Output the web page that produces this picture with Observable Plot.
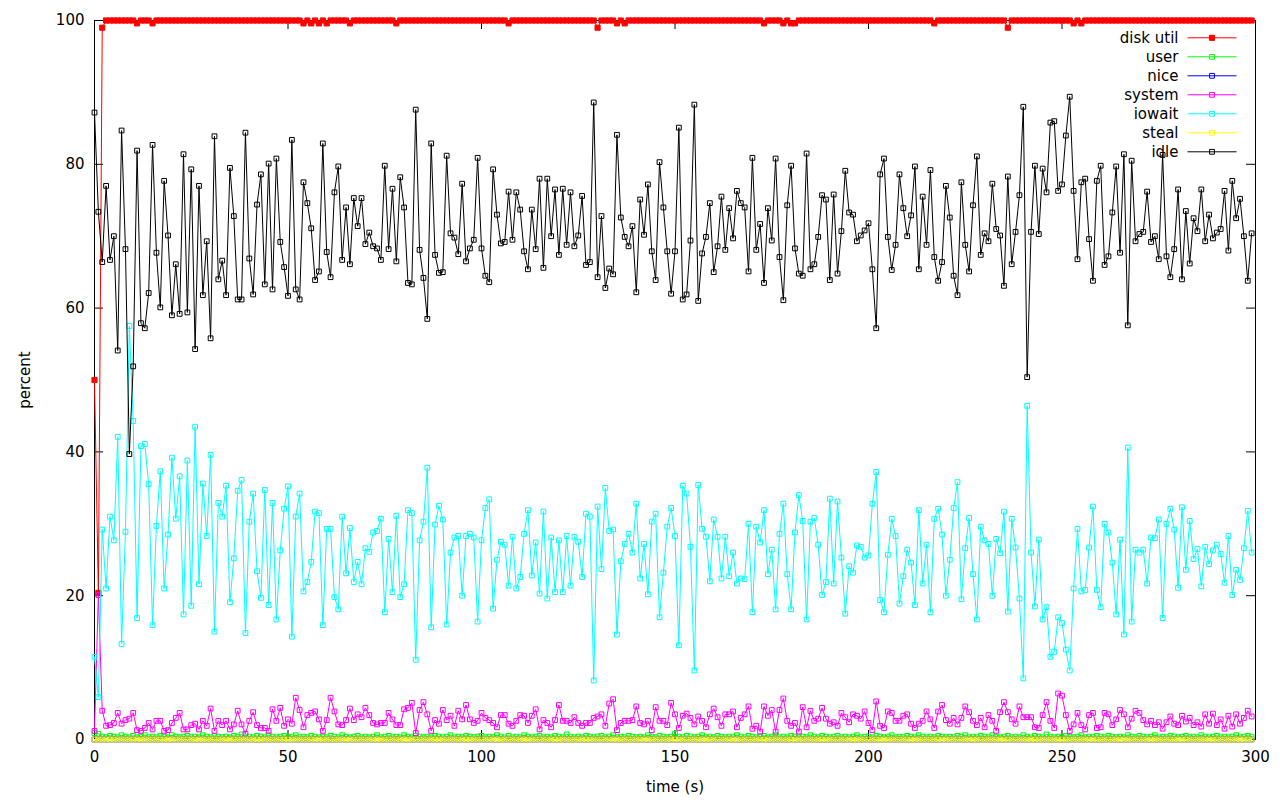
<!DOCTYPE html>
<html><head><meta charset="utf-8">
<script src="https://cdn.jsdelivr.net/npm/d3@7"></script>
<script src="https://cdn.jsdelivr.net/npm/@observablehq/plot@0.6"></script>
<style>html,body{margin:0;padding:0;background:#fff;}</style>
</head><body><div id="chart"></div>
<script>
// sample times (s)
const times = d3.range(0, 300);

const diskUtil = [
50,20.4,99.0,100,100,100,100,100,100,100,
100,99.6,100,100,100,99.6,100,100,100,100,
100,100,100,100,100,100,100,100,100,100,
100,100,100,100,100,100,100,100,100,100,
100,100,100,100,100,100,100,100,100,100,
100,100,100,100,99.6,100,99.6,100,99.6,100,
99.6,100,100,100,100,100,99.6,100,100,100,
100,100,100,100,100,100,100,100,99.6,100,
100,100,100,100,100,100,100,100,100,100,
100,100,100,100,100,100,100,100,100,100,
100,100,100,100,100,100,100,99.6,100,100,
100,100,100,100,100,100,100,100,100,100,
100,100,100,100,100,100,100,100,100,100,
99.0,100,100,100,100,99.6,100,99.6,100,100,
100,100,100,100,100,100,100,100,100,100,
100,100,100,100,100,100,100,100,100,100,
100,100,100,100,100,100,100,100,100,100,
100,100,100,99.6,100,100,100,100,99.6,100,
99.6,99.6,100,100,100,100,100,100,100,100,
100,100,100,100,100,100,100,100,100,100,
100,100,100,100,100,100,100,100,100,100,
100,100,100,100,100,100,100,99.6,100,100,
100,100,100,100,100,100,100,100,100,100,
100,100,100,100,100,100,99.0,100,100,100,
100,100,100,100,100,100,100,100,100,100,
100,100,100,99.6,100,99.6,100,100,100,100,
100,100,100,100,100,100,100,100,100,100,
100,100,100,100,100,100,100,100,100,100,
100,100,100,100,100,100,100,100,100,100,
100,100,100,100,100,100,100,100,100,100];

const user = [
0.9,0.8,0.4,0.3,0.5,0.4,0.3,0.6,0.4,0.3,
0.5,0.3,0.4,0.6,0.3,0.4,0.3,0.5,0.4,0.3,
0.6,0.4,0.3,0.4,0.5,0.3,0.4,0.3,0.6,0.4,
0.3,0.5,0.4,0.3,0.4,0.3,0.5,0.4,0.7,0.3,
0.4,0.3,0.5,0.4,0.3,0.6,0.4,0.3,0.4,0.5,
0.3,0.4,0.6,0.3,0.4,0.3,0.5,0.4,0.3,0.4,
0.3,0.5,0.4,0.3,0.6,0.4,0.3,0.4,0.5,0.3,
0.4,0.3,0.4,0.6,0.3,0.4,0.5,0.3,0.4,0.3,
0.6,0.4,0.3,0.5,0.4,0.3,0.4,0.3,0.5,0.4,
0.3,0.4,0.6,0.3,0.4,0.3,0.5,0.4,0.3,0.4,
0.5,0.3,0.4,0.3,0.6,0.4,0.3,0.5,0.3,0.4,
0.3,0.6,0.4,0.3,0.4,0.5,0.3,0.4,0.3,0.5,
0.4,0.3,0.7,0.4,0.3,0.4,0.3,0.5,0.4,0.3,
0.4,0.5,0.3,0.4,0.6,0.3,0.4,0.3,0.5,0.4,
0.3,0.4,0.3,0.6,0.4,0.3,0.5,0.4,0.3,0.4,
0.8,0.4,0.3,0.5,0.4,0.3,0.4,0.6,0.3,0.4,
0.3,0.5,0.4,0.3,0.4,0.3,0.6,0.4,0.3,0.5,
0.4,0.3,0.4,0.5,0.3,0.4,0.6,0.3,0.4,0.3,
0.5,0.4,0.3,0.4,0.3,0.6,0.4,0.3,0.5,0.4,
0.3,0.4,0.5,0.3,0.4,0.3,0.4,0.6,0.3,0.4,
0.4,0.3,0.5,0.4,0.3,0.4,0.6,0.3,0.4,0.3,
0.5,0.4,0.3,0.6,0.4,0.3,0.4,0.3,0.5,0.4,
0.3,0.4,0.3,0.5,0.4,0.6,0.3,0.4,0.3,0.5,
0.4,0.3,0.6,0.4,0.3,0.4,0.5,0.3,0.4,0.3,
0.6,0.4,0.3,0.5,0.4,0.3,0.7,0.4,0.3,0.4,
0.3,0.5,0.4,0.3,0.4,0.6,0.3,0.4,0.3,0.5,
0.4,0.3,0.5,0.4,0.3,0.4,0.3,0.6,0.4,0.3,
0.5,0.4,0.3,0.4,0.6,0.3,0.4,0.3,0.5,0.4,
0.3,0.4,0.5,0.3,0.4,0.3,0.6,0.4,0.3,0.4,
0.5,0.3,0.4,0.3,0.4,0.6,0.3,0.4,0.5,0.4];

const nice = [
0,0,0,0,0,0,0,0,0,0, 0,0,0,0,0,0,0,0,0,0, 0,0,0,0,0,0,0,0,0,0,
0,0,0,0,0,0,0,0,0,0, 0,0,0,0,0,0,0,0,0,0, 0,0,0,0,0,0,0,0,0,0,
0,0,0,0,0,0,0,0,0,0, 0,0,0,0,0,0,0,0,0,0, 0,0,0,0,0,0,0,0,0,0,
0,0,0,0,0,0,0,0,0,0, 0,0,0,0,0,0,0,0,0,0, 0,0,0,0,0,0,0,0,0,0,
0,0,0,0,0,0,0,0,0,0, 0,0,0,0,0,0,0,0,0,0, 0,0,0,0,0,0,0,0,0,0,
0,0,0,0,0,0,0,0,0,0, 0,0,0,0,0,0,0,0,0,0, 0,0,0,0,0,0,0,0,0,0,
0,0,0,0,0,0,0,0,0,0, 0,0,0,0,0,0,0,0,0,0, 0,0,0,0,0,0,0,0,0,0,
0,0,0,0,0,0,0,0,0,0, 0,0,0,0,0,0,0,0,0,0, 0,0,0,0,0,0,0,0,0,0,
0,0,0,0,0,0,0,0,0,0, 0,0,0,0,0,0,0,0,0,0, 0,0,0,0,0,0,0,0,0,0,
0,0,0,0,0,0,0,0,0,0, 0,0,0,0,0,0,0,0,0,0, 0,0,0,0,0,0,0,0,0,0];

const system = [
1.2,20.1,4.0,1.9,2.0,2.3,3.7,2.2,2.7,2.9,
3.7,1.3,1.2,1.6,2.3,1.4,2.6,2.6,1.2,1.3,
2.3,3.0,3.7,1.4,1.4,2.0,2.2,1.4,2.6,1.9,
4.3,1.2,2.6,2.0,2.6,1.4,2.1,4.0,2.1,0.8,
2.6,3.8,2.0,1.6,1.6,1.2,4.2,2.6,4.4,1.9,
2.8,2.2,5.8,4.1,1.7,3.4,3.7,3.9,2.8,1.2,
2.7,5.8,3.9,2.1,2.0,2.7,4.3,2.7,3.5,3.1,
4.4,3.4,2.3,2.1,2.3,2.3,3.7,2.8,2.0,2.0,
4.2,4.4,5.1,0.9,4.1,5.2,3.5,1.2,2.7,2.2,
4.1,2.7,3.3,1.9,4.0,2.8,4.8,2.8,2.3,2.6,
3.7,3.0,2.7,2.3,1.7,3.4,3.4,2.2,1.9,2.6,
3.4,3.3,2.3,3.3,4.2,1.4,2.7,2.3,1.7,2.7,
4.8,2.6,2.6,2.3,3.1,2.3,1.9,2.3,2.3,3.0,
3.2,3.5,1.9,5.0,5.6,1.3,2.3,2.6,2.6,2.7,
4.6,2.3,2.1,2.6,1.3,4.5,2.6,2.6,2.0,5.1,
3.5,1.6,3.3,3.6,3.0,2.1,3.2,2.6,1.7,3.5,
4.3,3.1,1.9,3.5,3.5,3.9,1.7,3.0,3.5,4.6,
1.5,1.9,1.1,4.6,3.3,4.1,1.1,4.1,5.7,2.6,
1.9,2.3,1.1,4.5,1.7,4.0,2.6,2.9,4.4,2.9,
2.2,2.4,1.9,3.7,3.1,2.4,3.5,3.3,2.9,3.9,
2.3,1.3,5.3,1.9,1.6,3.9,3.7,2.6,2.6,3.3,
3.5,2.2,1.6,2.2,2.6,3.9,2.8,1.6,3.9,4.8,
2.7,2.2,3.0,2.1,3.0,4.6,3.8,2.6,2.0,3.0,
1.7,3.4,2.6,1.2,3.8,5.2,3.8,2.8,2.2,4.6,
3.1,3.1,3.1,1.7,1.6,3.4,5.2,2.6,1.6,6.4,
6.1,3.4,1.2,2.1,3.7,2.0,1.4,3.4,3.7,1.6,
1.7,3.7,3.5,2.0,2.8,4.1,3.5,1.7,2.9,4.0,
3.7,2.7,2.1,2.6,2.0,2.4,1.5,2.4,3.2,2.2,
2.0,3.3,2.5,3.0,2.0,2.4,1.8,3.5,2.2,3.6,
2.0,2.8,1.5,3.3,1.8,3.5,2.2,3.0,4.0,3.2];

const iowait = [
11.5,5.9,29.2,21.0,31.0,27.7,42.1,13.3,28.9,57.5,
44.3,16.9,40.8,41.1,35.5,15.9,29.7,37.3,21.0,28.5,
39.2,30.7,36.6,17.4,38.8,18.6,43.5,21.6,35.6,28.3,
39.6,15.0,32.9,31.0,35.3,19.1,25.2,34.6,36.1,14.8,
30.3,34.2,23.4,19.7,34.7,18.7,32.9,16.7,26.3,32.1,
35.2,14.3,31.0,34.2,20.6,21.9,24.7,31.7,31.5,15.9,
29.3,29.3,19.8,18.1,31.0,23.1,29.4,21.9,24.7,21.6,
26.6,26.1,28.8,29.0,30.7,17.7,27.9,20.5,31.1,19.8,
21.6,31.9,31.5,11.1,27.7,30.3,37.8,15.6,29.9,32.5,
30.6,16.0,26.0,28.1,28.3,20.0,28.3,28.6,28.1,16.4,
27.7,32.2,33.4,18.2,25.0,27.5,27.1,21.4,28.2,21.0,
22.6,28.6,31.9,22.8,27.4,20.3,31.7,19.6,28.1,20.5,
27.7,20.5,28.3,21.4,28.2,27.5,22.6,31.4,31.0,8.2,
32.4,23.7,35.0,29.0,29.2,14.6,24.8,27.2,28.6,26.0,
32.8,22.4,27.2,20.2,30.3,31.4,17.0,23.2,29.6,32.2,
28.3,13.1,35.3,34.2,26.8,9.6,35.4,29.3,28.2,22.0,
30.6,28.2,22.4,28.2,22.7,26.0,21.7,22.4,22.3,30.0,
17.7,29.6,27.4,31.9,23.0,26.4,18.1,28.6,32.8,23.0,
18.1,28.8,34.0,30.4,16.7,30.3,30.8,27.1,20.1,21.9,
33.5,21.7,33.1,25.3,17.5,24.1,23.2,27.0,26.8,25.3,
25.6,32.8,37.2,19.4,17.7,25.7,30.7,28.3,18.9,22.7,
26.4,24.6,18.7,31.9,21.7,27.1,17.7,30.7,32.1,28.5,
20.0,25.0,32.2,35.8,19.5,26.6,30.8,23.0,16.7,29.6,
27.7,27.2,20.0,27.9,25.9,31.7,17.8,30.7,26.7,19.6,
8.5,46.4,26.0,18.5,27.8,16.7,18.4,11.5,12.2,17.0,
16.2,12.5,9.6,21.0,29.3,20.6,20.8,26.7,32.4,20.8,
18.4,30.0,28.8,24.6,17.4,27.8,14.6,40.6,16.4,26.4,
26.0,26.4,21.7,28.1,28.0,30.6,16.9,30.0,32.1,29.2,
21.1,32.3,23.6,30.4,25.1,26.5,21.3,26.8,24.4,26.3,
27.1,25.8,21.8,28.3,20.1,23.6,22.2,26.6,31.8,26.0];

const steal = [
0,0,0,0,0,0,0,0,0,0, 0,0,0,0,0,0,0,0,0,0, 0,0,0,0,0,0,0,0,0,0,
0,0,0,0,0,0,0,0,0,0, 0,0,0,0,0,0,0,0,0,0, 0,0,0,0,0,0,0,0,0,0,
0,0,0,0,0,0,0,0,0,0, 0,0,0,0,0,0,0,0,0,0, 0,0,0,0,0,0,0,0,0,0,
0,0,0,0,0,0,0,0,0,0, 0,0,0,0,0,0,0,0,0,0, 0,0,0,0,0,0,0,0,0,0,
0,0,0,0,0,0,0,0,0,0, 0,0,0,0,0,0,0,0,0,0, 0,0,0,0,0,0,0,0,0,0,
0,0,0,0,0,0,0,0,0,0, 0,0,0,0,0,0,0,0,0,0, 0,0,0,0,0,0,0,0,0,0,
0,0,0,0,0,0,0,0,0,0, 0,0,0,0,0,0,0,0,0,0, 0,0,0,0,0,0,0,0,0,0,
0,0,0,0,0,0,0,0,0,0, 0,0,0,0,0,0,0,0,0,0, 0,0,0,0,0,0,0,0,0,0,
0,0,0,0,0,0,0,0,0,0, 0,0,0,0,0,0,0,0,0,0, 0,0,0,0,0,0,0,0,0,0,
0,0,0,0,0,0,0,0,0,0, 0,0,0,0,0,0,0,0,0,0, 0,0,0,0,0,0,0,0,0,0];

const idle = [
87.2,73.4,66.4,77.0,66.7,70.0,54.1,84.7,68.2,39.7,
51.9,81.9,57.9,57.2,62.1,82.7,67.7,60.1,77.7,70.1,
59.0,66.1,59.2,81.4,59.4,79.3,54.3,77.0,61.8,69.3,
55.8,83.9,64.0,66.6,61.8,79.5,72.8,61.2,61.2,84.4,
66.9,61.9,74.4,78.6,63.3,80.1,62.6,80.8,69.2,65.7,
61.7,83.4,62.6,61.2,77.5,74.6,71.1,63.9,65.1,82.9,
67.8,64.3,76.1,79.7,66.7,74.0,66.1,75.3,71.4,75.3,
68.9,70.5,68.6,68.3,66.7,79.8,68.2,76.6,66.5,78.2,
74.0,63.5,63.3,87.6,68.1,64.2,58.5,82.9,67.4,64.9,
65.0,81.2,70.4,69.8,67.5,77.3,66.5,68.3,69.5,80.9,
68.3,64.5,63.6,79.3,73.0,69.0,69.2,76.2,69.5,76.1,
73.7,67.9,65.4,73.7,68.2,78.0,65.6,78.0,70.0,76.5,
67.4,76.6,68.8,76.1,68.6,70.1,75.6,66.0,66.4,88.6,
64.3,72.8,62.8,65.5,64.7,84.1,72.6,69.9,68.6,71.4,
62.2,75.1,70.2,77.2,67.9,63.9,80.3,74.0,67.9,62.0,
67.9,85.1,61.2,61.9,69.4,88.3,61.0,67.6,69.9,74.6,
65.0,68.6,75.5,68.1,73.9,69.7,76.3,74.6,74.0,65.1,
80.9,68.1,71.7,63.5,73.9,69.4,80.8,67.1,61.1,74.3,
79.8,68.3,64.8,64.5,81.5,65.4,66.1,69.9,75.7,75.1,
63.9,75.8,64.8,70.7,79.1,73.3,73.0,69.3,70.1,70.8,
71.8,65.4,57.2,78.6,80.8,69.9,65.3,68.8,78.6,73.9,
70.0,72.9,79.7,65.4,75.5,68.8,79.2,67.1,63.8,66.4,
77.0,72.6,64.5,61.8,77.5,68.8,65.1,74.3,81.1,67.4,
70.4,69.3,77.3,71.0,70.1,63.1,78.3,66.1,70.6,75.7,
88.0,50.4,70.6,79.8,70.3,79.4,76.1,85.8,86.0,76.3,
77.2,84.0,89.4,76.3,66.8,77.5,78.0,69.6,63.8,77.7,
79.8,66.0,67.2,73.3,79.7,67.7,81.4,57.6,80.5,69.3,
70.3,70.6,76.2,69.2,70.0,66.8,81.3,67.2,64.3,68.2,
76.5,64.0,73.5,66.2,72.5,70.7,76.5,69.3,73.0,69.7,
70.5,71.0,76.3,68.0,77.7,72.5,75.2,70.0,63.8,70.4];

const seriesNames = ["disk util", "user", "nice", "system", "iowait", "steal", "idle"];
const seriesColors = ["#ff0000", "#00ff00", "#0000ff", "#ff00ff", "#00ffff", "#ffff00", "#000000"];
const seriesValues = [diskUtil, user, nice, system, iowait, steal, idle];
const xTicks = [0, 50, 100, 150, 200, 250, 300];
const yTicks = [0, 20, 40, 60, 80, 100];

const W = 1280, H = 800, ML = 94, MR = 25, MT = 20, MB = 61;
const innerW = W - ML - MR, innerH = H - MT - MB;
const TICK = 9;
const R = 2.7;

// horizontal legend-line symbol
const hline = {draw(ctx) { ctx.moveTo(-24.5, 0); ctx.lineTo(24.5, 0); }};

const marks = [
  Plot.frame({stroke: "black", strokeWidth: 1}),
  Plot.ruleY(yTicks, {y: d => d, insetRight: innerW - TICK, stroke: "black"}),
  Plot.ruleY(yTicks, {y: d => d, insetLeft: innerW - TICK, stroke: "black"}),
  Plot.ruleX(xTicks, {x: d => d, insetTop: innerH - TICK, stroke: "black"}),
  Plot.ruleX(xTicks, {x: d => d, insetBottom: innerH - TICK, stroke: "black"}),
  Plot.axisX({ticks: xTicks, tickSize: 0, tickPadding: 12, label: null, tickFormat: d => String(d)}),
  Plot.axisY({ticks: yTicks, tickSize: 0, tickPadding: 10, label: null, tickFormat: d => String(d)}),
  Plot.text(["time (s)"], {frameAnchor: "bottom", dy: 48, lineAnchor: "middle", textAnchor: "middle", text: d => d, fill: "black"}),
  Plot.text(["percent"], {frameAnchor: "left", dx: -69, rotate: -90, lineAnchor: "middle", textAnchor: "middle", text: d => d, fill: "black"})
];

seriesNames.forEach((name, k) => {
  const data = seriesValues[k].map((v, i) => ({t: times[i], v}));
  const color = seriesColors[k];
  const filled = k === 0;
  marks.push(Plot.line(data, {x: "t", y: "v", stroke: color, strokeWidth: 1}));
  marks.push(Plot.dot(data, {x: "t", y: "v", symbol: "square", r: filled ? 2.9 : R,
    stroke: color, strokeWidth: 1, fill: filled ? color : "none"}));
  const dy = 17.3 + 19 * k;
  marks.push(Plot.text([name], {frameAnchor: "top-right", dx: -77, dy, lineAnchor: "middle", text: d => d, textAnchor: "end", fill: "black"}));
  marks.push(Plot.dot([name], {frameAnchor: "top-right", dx: -43.5, dy, symbol: hline, stroke: color, strokeWidth: 1, fill: "none"}));
  marks.push(Plot.dot([name], {frameAnchor: "top-right", dx: -43.5, dy, symbol: "square", r: filled ? 2.9 : R,
    stroke: color, strokeWidth: 1, fill: filled ? color : "none"}));
});

const chart = Plot.plot({
  width: W, height: H,
  marginLeft: ML, marginRight: MR, marginTop: MT, marginBottom: MB,
  x: {domain: [0, 300], label: null},
  y: {domain: [0, 100], label: null},
  style: {fontFamily: "'DejaVu Sans', sans-serif", fontSize: "15px", background: "white", color: "black", overflow: "visible"},
  marks
});
document.getElementById("chart").appendChild(chart);
</script>
</body></html>
